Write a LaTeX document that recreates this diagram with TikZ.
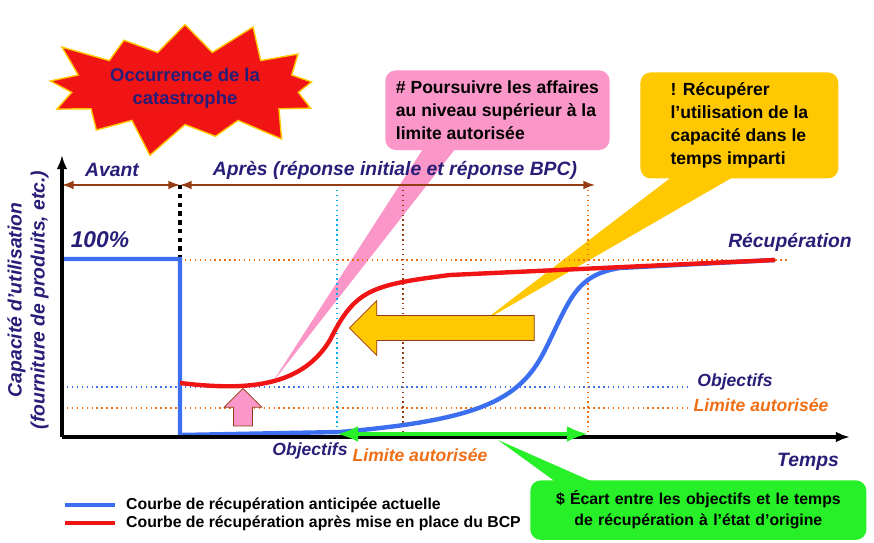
\documentclass[tikz,border=0pt]{standalone}
\usepackage{fontspec}
\setmainfont{Liberation Sans}
\usetikzlibrary{arrows.meta,shapes.symbols,shapes.arrows}
\definecolor{navy}{RGB}{40,30,120}
\definecolor{bl}{RGB}{60,110,240}
\definecolor{rd}{RGB}{240,20,20}
\definecolor{org}{RGB}{240,110,20}
\definecolor{brn}{RGB}{150,60,20}
\definecolor{pnk}{RGB}{250,150,200}
\definecolor{yel}{RGB}{255,200,0}
\definecolor{grn}{RGB}{40,240,40}
\begin{document}
\begin{tikzpicture}[x=0.02cm,y=-0.02cm,
 lab/.style={font=\bfseries\itshape\fontsize{11}{13}\selectfont},
 dot/.style={dotted,thick},
 box/.style={rounded corners=6pt,font=\bfseries\fontsize{10}{13}\selectfont,align=left,inner sep=6pt}]
\useasboundingbox (0,0) rectangle (874,543);
% callout tails behind
\fill[pnk] (470,130) -- (272,383) -- (430,138) -- cycle;
\fill[yel] (720,140) -- (482,322) -- (780,150) -- cycle;
\fill[grn] (560,485) -- (498,440) -- (600,485) -- cycle;
% callouts
\node[box,fill=pnk,minimum width=4cm,minimum height=1.4cm,anchor=north west] (pk) at (385,70) {\# Poursuivre les affaires\\au niveau supérieur à la\\limite autorisée};
\node[box,fill=yel,minimum width=3.96cm,minimum height=1.76cm,anchor=north west] (yk) at (640,72) {! Récupérer\\l'utilisation de la\\capacité dans le\\temps imparti};
\node[box,fill=grn,text width=6.3cm,minimum height=1cm,anchor=north west,align=center,font=\bfseries\fontsize{9}{12}\selectfont] (gk) at (530,480) {\$ Écart entre les objectifs et le temps\\de récupération à l'état d'origine};
% starburst
\node[starburst,starburst points=13,starburst point height=0.75cm,fill=rd,draw=yel,thick,minimum width=4.2cm,minimum height=2.6cm,align=center,text=navy,font=\bfseries\fontsize{10.5}{13}\selectfont] (st) at (185,88) {Occurrence de la\\catastrophe};
% dotted lines
\draw[dot,org] (180,260) -- (790,260);
\draw[dot,bl] (62,387) -- (690,387);
\draw[dot,org] (62,408) -- (690,408);
\draw[dot,cyan] (337,185) -- (337,437);
\draw[dot,brn] (403,185) -- (403,437);
\draw[dot,org] (588,185) -- (588,437);
\draw[black,line width=2.5pt,dash pattern=on 2.5pt off 2.5pt] (180,185) -- (180,259);
% brown arrows
\draw[brn,thick,{Latex}-{Latex}] (62,185) -- (180,185);
\draw[brn,thick,{Latex}-{Latex}] (180,185) -- (595,185);
% curves
\draw[bl,line width=2.5pt] (62,259) -- (180,259) -- (180,435) -- (340,432) .. controls (480,420) and (520,400) .. (545,350) .. controls (570,300) and (575,275) .. (620,268) -- (775,260);
\draw[rd,line width=2.5pt] (180,383) .. controls (240,390) and (300,390) .. (330,340) .. controls (355,290) and (370,285) .. (450,275) -- (775,260);
% axes
\draw[line width=2pt,-{Latex[length=8pt]}] (62,437) -- (62,155);
\draw[line width=2pt,-{Latex[length=8pt]}] (62,437) -- (850,437);
% green arrow
\draw[grn,line width=2pt,{Latex}-{Latex}] (337,434) -- (588,434);
% yellow arrow
\node[single arrow,fill=yel,draw=brn,minimum height=3.7cm,minimum width=1.1cm,single arrow head extend=0.15cm,shape border rotate=180] (ya) at (448,328) {};
% pink arrow
\node[single arrow,fill=pnk,draw=brn,minimum height=0.75cm,minimum width=0.75cm,single arrow head extend=0.12cm,shape border rotate=90] (pa) at (243,412) {};
% labels
\node[lab,text=navy] (av) at (112,170) {Avant};
\node[lab,text=navy] (ap) at (395,170) {Après (réponse initiale et réponse BPC)};
\node[lab,text=navy,font=\bfseries\itshape\fontsize{13}{15}\selectfont] (cp) at (100,240) {100\%};
\node[lab,text=navy] (rc) at (790,242) {Récupération};
\node[lab,text=navy,font=\bfseries\itshape\fontsize{10}{12}\selectfont] (ob) at (735,382) {Objectifs};
\node[lab,text=org,font=\bfseries\itshape\fontsize{10}{12}\selectfont] (li) at (761,405) {Limite autorisée};
\node[lab,text=navy,font=\bfseries\itshape\fontsize{10}{12}\selectfont] (ob2) at (310,451) {Objectifs};
\node[lab,text=org,font=\bfseries\itshape\fontsize{10}{12}\selectfont] (li2) at (420,455) {Limite autorisée};
\node[lab,text=navy] (tp) at (808,462) {Temps};
\node[lab,text=navy,rotate=90,align=center] (ya2) at (28,300) {Capacité d'utilisation\\(fourniture de produits, etc.)};
% legend
\draw[bl,line width=2.5pt] (65,505) -- (115,505);
\draw[rd,line width=2.5pt] (65,523) -- (115,523);
\node[anchor=west,font=\bfseries\fontsize{9}{11}\selectfont] (l1) at (120,505) {Courbe de récupération anticipée actuelle};
\node[anchor=west,font=\bfseries\fontsize{9}{11}\selectfont] (l2) at (120,523) {Courbe de récupération après mise en place du BCP};
\end{tikzpicture}
\end{document}
